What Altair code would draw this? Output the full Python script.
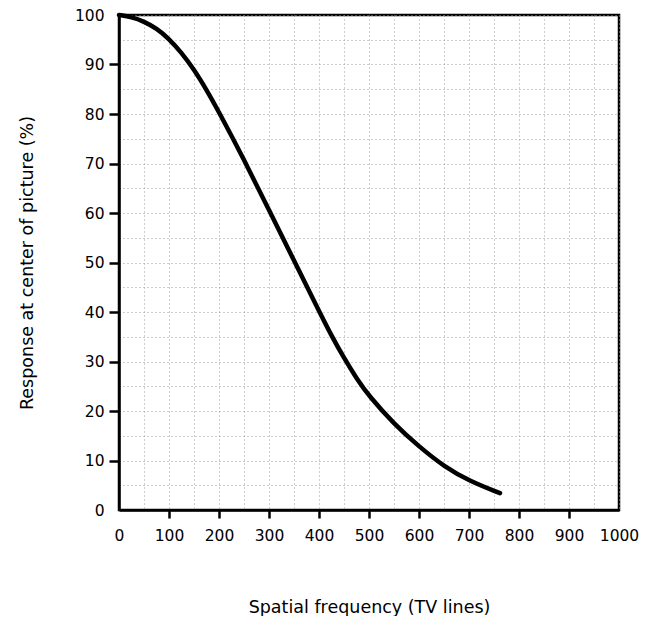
import altair as alt
import pandas as pd

freq = [0, 25, 50, 75, 100, 125, 150, 175, 200, 250, 300, 350, 400, 425, 450, 475, 500, 550, 600, 650, 700, 762]
resp = [100, 99.6, 98.7, 97.3, 95.2, 92.4, 89.0, 84.9, 80.4, 70.8, 60.6, 50.4, 40.2, 35.2, 30.7, 26.6, 23.0, 17.4, 12.8, 8.8, 5.9, 3.4]

x_grid = list(range(0, 1001, 50))
y_grid = list(range(0, 101, 5))

df = pd.DataFrame({"f": freq, "r": resp})

FONT = "DejaVu Sans"

x_axis = alt.Axis(
    values=x_grid,
    format="d",
    labelExpr="datum.value % 100 === 0 ? datum.label : ''",
    grid=True,
    gridColor="#9a9a9a",
    gridDash=[1, 3],
    gridWidth=1,
    tickOpacity={"condition": {"test": "datum.value % 100 === 0 && datum.value > 0 && datum.value < 1000", "value": 1}, "value": 0},
    tickSize=8,
    tickWidth=2.5,
    tickColor="black",
    domainColor="black",
    domainWidth=2.5,
    labelFont=FONT,
    labelFontSize=15.5,
    labelColor="black",
    labelPadding=10,
    labelFlush=False,
    title="Spatial frequency (TV lines)",
    titleFont=FONT,
    titleFontSize=17.5,
    titleFontWeight="normal",
    titleColor="black",
    titlePadding=55,
)

y_axis = alt.Axis(
    values=y_grid,
    labelExpr="datum.value % 10 === 0 ? datum.label : ''",
    grid=True,
    gridColor="#9a9a9a",
    gridDash=[1, 3],
    gridWidth=1,
    tickOpacity={"condition": {"test": "datum.value % 10 === 0 && datum.value > 0 && datum.value < 100", "value": 1}, "value": 0},
    tickSize=10,
    tickWidth=2.5,
    tickColor="black",
    domainColor="black",
    domainWidth=2.5,
    labelFont=FONT,
    labelFontSize=15.5,
    labelColor="black",
    labelPadding=5,
    labelFlush=False,
    title="Response at center of picture (%)",
    titleFont=FONT,
    titleFontSize=17.5,
    titleFontWeight="normal",
    titleColor="black",
    titlePadding=38,
)

chart = (
    alt.Chart(df)
    .mark_line(color="black", strokeWidth=4.5, interpolate="basis", strokeCap="round")
    .encode(
        x=alt.X("f:Q", scale=alt.Scale(domain=[0, 1000], nice=False, zero=False), axis=x_axis),
        y=alt.Y("r:Q", scale=alt.Scale(domain=[0, 100], nice=False), axis=y_axis),
    )
    .properties(
        width=500,
        height=495,
        background="white",
        autosize=alt.AutoSizeParams(type="none"),
        padding={"left": 111, "top": 7, "right": 30, "bottom": 106},
    )
    .configure_view(stroke="black", strokeWidth=2.5)
)

chart.save("out.html", embed_options={"renderer": "svg", "actions": False})
